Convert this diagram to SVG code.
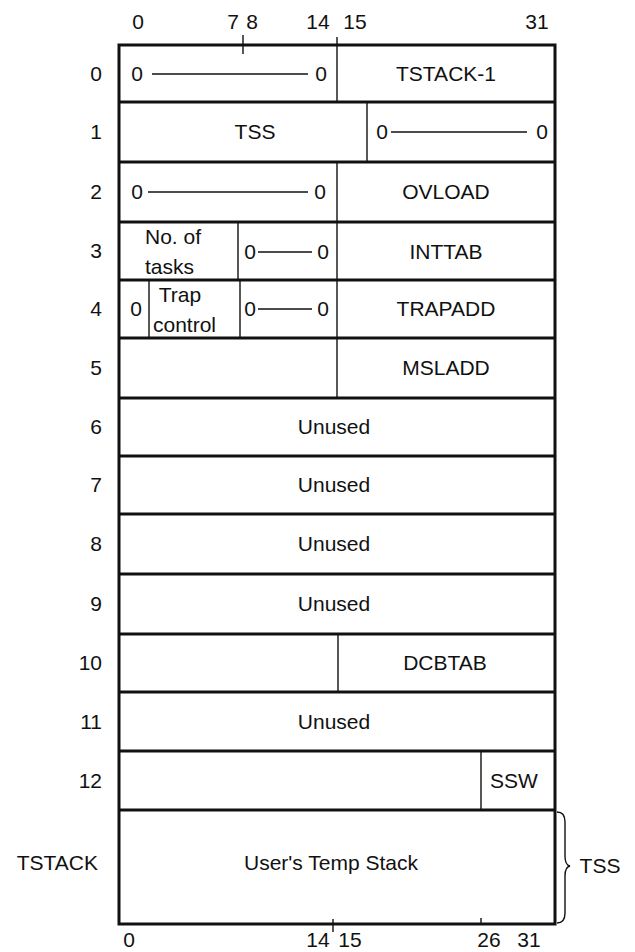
<svg xmlns="http://www.w3.org/2000/svg" width="635" height="952" viewBox="0 0 635 952">
<style>
text{font-family:"Liberation Sans",Arial,sans-serif;font-size:21px;fill:#111}
.c{text-anchor:middle}
.e{text-anchor:end}
.rl{stroke:#111;stroke-width:3;fill:none}
.dv{stroke:#111;stroke-width:1.4;fill:none}
.dash{stroke:#111;stroke-width:1.3}
</style>
<rect width="635" height="952" fill="#fff"/>
<g id="bit-scale-top">
<text x="138" y="29" class="c">0</text>
<text x="233" y="29" class="c">7</text>
<text x="252" y="29" class="c">8</text>
<text x="318" y="29" class="c">14</text>
<text x="355" y="29" class="c">15</text>
<text x="537" y="29" class="c">31</text>
<line x1="243" y1="35" x2="243" y2="54" class="dv"/>
<line x1="337" y1="37" x2="337" y2="45" class="dv"/>
</g>
<g id="frame">
<rect x="119" y="45" width="436" height="879" class="rl"/>
<line x1="119" y1="102" x2="555" y2="102" class="rl"/>
<line x1="119" y1="162" x2="555" y2="162" class="rl"/>
<line x1="119" y1="222" x2="555" y2="222" class="rl"/>
<line x1="119" y1="280" x2="555" y2="280" class="rl"/>
<line x1="119" y1="338" x2="555" y2="338" class="rl"/>
<line x1="119" y1="398" x2="555" y2="398" class="rl"/>
<line x1="119" y1="456" x2="555" y2="456" class="rl"/>
<line x1="119" y1="514" x2="555" y2="514" class="rl"/>
<line x1="119" y1="574" x2="555" y2="574" class="rl"/>
<line x1="119" y1="634" x2="555" y2="634" class="rl"/>
<line x1="119" y1="692" x2="555" y2="692" class="rl"/>
<line x1="119" y1="751" x2="555" y2="751" class="rl"/>
<line x1="119" y1="810" x2="555" y2="810" class="rl"/>
</g>
<g id="row-labels">
<text x="102" y="81" class="e">0</text>
<text x="102" y="139" class="e">1</text>
<text x="102" y="199" class="e">2</text>
<text x="102" y="258" class="e">3</text>
<text x="102" y="316" class="e">4</text>
<text x="102" y="375" class="e">5</text>
<text x="102" y="434" class="e">6</text>
<text x="102" y="492" class="e">7</text>
<text x="102" y="551" class="e">8</text>
<text x="102" y="611" class="e">9</text>
<text x="102" y="670" class="e">10</text>
<text x="102" y="729" class="e">11</text>
<text x="102" y="788" class="e">12</text>
<text x="98" y="870" class="e">TSTACK</text>
</g>
<g id="row0">
<text x="137" y="81" class="c">0</text>
<line x1="152" y1="74" x2="308" y2="74" class="dash"/>
<text x="321" y="81" class="c">0</text>
<line x1="337" y1="45" x2="337" y2="102" class="dv"/>
<text x="446" y="81" class="c">TSTACK-1</text>
</g>
<g id="row1">
<text x="255" y="139" class="c">TSS</text>
<line x1="367" y1="102" x2="367" y2="162" class="dv"/>
<text x="382" y="139" class="c">0</text>
<line x1="391" y1="132" x2="527" y2="132" class="dash"/>
<text x="542" y="139" class="c">0</text>
</g>
<g id="row2">
<text x="137" y="199" class="c">0</text>
<line x1="148" y1="192" x2="308" y2="192" class="dash"/>
<text x="320" y="199" class="c">0</text>
<line x1="337" y1="162" x2="337" y2="222" class="dv"/>
<text x="446" y="199" class="c">OVLOAD</text>
</g>
<g id="row3">
<text x="145" y="244">No. of</text>
<text x="145" y="274">tasks</text>
<line x1="238" y1="222" x2="238" y2="280" class="dv"/>
<text x="250" y="259" class="c">0</text>
<line x1="258" y1="252" x2="312" y2="252" class="dash"/>
<text x="323" y="259" class="c">0</text>
<line x1="337" y1="222" x2="337" y2="280" class="dv"/>
<text x="446" y="259" class="c">INTTAB</text>
</g>
<g id="row4">
<text x="136" y="316" class="c">0</text>
<line x1="149" y1="280" x2="149" y2="338" class="dv"/>
<text x="180" y="302" class="c">Trap</text>
<text x="153" y="332">control</text>
<line x1="240" y1="280" x2="240" y2="338" class="dv"/>
<text x="250" y="316" class="c">0</text>
<line x1="258" y1="309" x2="312" y2="309" class="dash"/>
<text x="323" y="316" class="c">0</text>
<line x1="337" y1="280" x2="337" y2="338" class="dv"/>
<text x="446" y="316" class="c">TRAPADD</text>
</g>
<g id="row5">
<line x1="337" y1="338" x2="337" y2="398" class="dv"/>
<text x="446" y="375" class="c">MSLADD</text>
</g>
<g id="row6"><text x="334" y="434" class="c">Unused</text></g>
<g id="row7"><text x="334" y="492" class="c">Unused</text></g>
<g id="row8"><text x="334" y="551" class="c">Unused</text></g>
<g id="row9"><text x="334" y="611" class="c">Unused</text></g>
<g id="row10">
<line x1="338" y1="634" x2="338" y2="692" class="dv"/>
<text x="445" y="670" class="c">DCBTAB</text>
</g>
<g id="row11"><text x="334" y="729" class="c">Unused</text></g>
<g id="row12">
<line x1="481" y1="751" x2="481" y2="810" class="dv"/>
<text x="514" y="788" class="c">SSW</text>
</g>
<g id="tstack">
<text x="331" y="870" class="c">User's Temp Stack</text>
</g>
<g id="connectors">
<path d="M557,812 Q565,812 565,822 L565,856 Q565,865 570,866 Q565,867 565,876 L565,913 Q565,923 557,923" class="dv"/>
</g>
<g id="tss-label"><text x="600" y="873" class="c">TSS</text></g>
<g id="bit-scale-bottom">
<line x1="333" y1="919" x2="333" y2="932" class="dv"/>
<line x1="481" y1="918" x2="481" y2="924" class="dv"/>
<text x="129" y="947" class="c">0</text>
<text x="318" y="947" class="c">14</text>
<text x="350" y="947" class="c">15</text>
<text x="489" y="947" class="c">26</text>
<text x="529" y="947" class="c">31</text>
</g>
</svg>
